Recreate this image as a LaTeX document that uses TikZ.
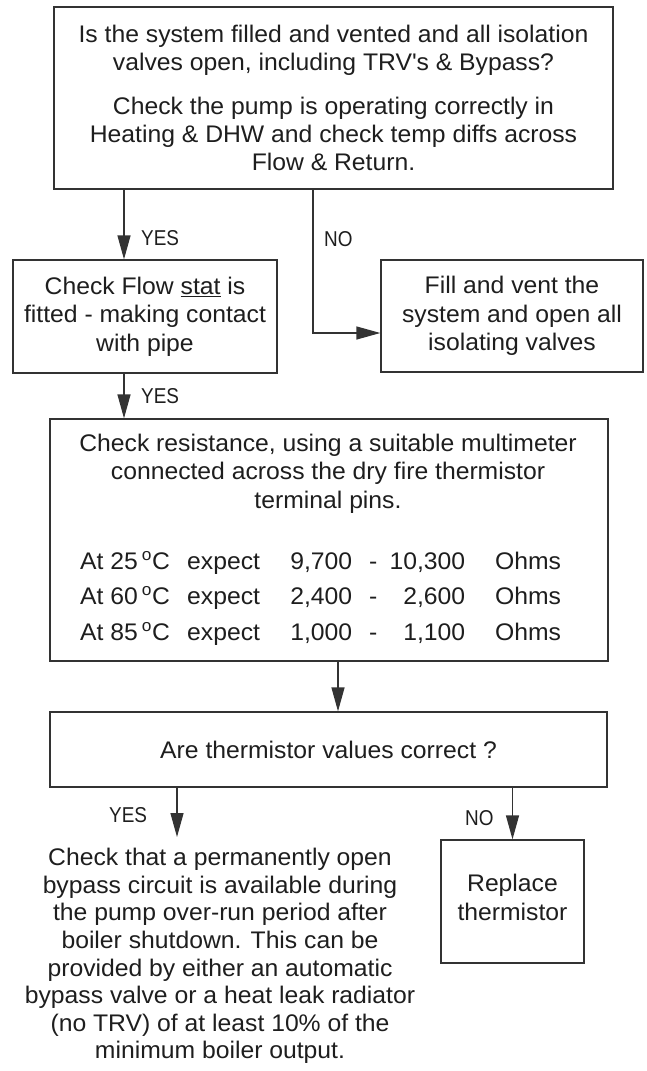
\documentclass[tikz,border=0pt]{standalone}
\usepackage{fontspec}
\setmainfont{Liberation Sans}[FakeStretch=1.03]
\newfontfamily\lblfont{Liberation Sans}[FakeStretch=0.88]
\usetikzlibrary{arrows.meta}
\definecolor{ink}{HTML}{1E1E1E}
\definecolor{edge}{HTML}{333333}
\newcommand\thermrow[3]{\makebox[107pt][l]{At #1\,\textsuperscript{o}C}\makebox[70pt][l]{expect}\makebox[95pt][r]{#2}\makebox[42pt]{-}\makebox[71pt][r]{#3}\hspace{30pt}Ohms}
\begin{document}
\begin{tikzpicture}[x=1pt,y=-1pt,
  box/.style={draw=edge, line width=1.3pt, inner sep=0pt},
  txt/.style={font=\fontsize{24}{28}\selectfont, text=ink, align=center},
  rowtxt/.style={font=\fontsize{24}{28}\selectfont, text=ink, anchor=west, inner sep=0pt},
  lbl/.style={font=\lblfont\fontsize{21.5}{24}\selectfont, text=ink, anchor=west, inner sep=0pt},
  arr/.style={draw=edge, line width=1.3pt, -{Triangle[length=24pt,width=13pt]}}]
\useasboundingbox (0,0) rectangle (646,1071);
\fill[white] (0,0) rectangle (646,1071);

% boxes
\node[box, txt, minimum width=559pt, minimum height=182pt] (top) at (333.5,98)
  {Is the system filled and vented and all isolation\\
   valves open, including TRV\textquotesingle s \& Bypass?\\[16pt]
   Check the pump is operating correctly in\\
   Heating \& DHW and check temp diffs across\\
   Flow \& Return.};
\node[box, txt, font=\fontsize{24}{28.5}\selectfont, minimum width=264pt, minimum height=113pt] (flow) at (145,316.5)
  {Check Flow \underline{stat} is\\fitted - making contact\\with pipe};
\node[box, txt, font=\fontsize{24}{28.5}\selectfont, minimum width=262pt, minimum height=112pt] (fill) at (512,316)
  {Fill and vent the\\system and open all\\isolating valves};
\node[box, minimum width=558pt, minimum height=242pt] (res) at (329,540) {};
\node[txt, font=\fontsize{24}{28.5}\selectfont] (restext) at (328,473.5)
  {Check resistance, using a suitable multimeter\\connected across the dry fire thermistor\\terminal pins.};
\node[rowtxt] (row1) at (80,563) {\thermrow{25}{9,700}{10,300}};
\node[rowtxt] (row2) at (80,598) {\thermrow{60}{2,400}{2,600}};
\node[rowtxt] (row3) at (80,634) {\thermrow{85}{1,000}{1,100}};
\node[box, txt, minimum width=557pt, minimum height=75pt] (therm) at (328.5,749.5)
  {Are thermistor values correct ?};
\node[box, minimum width=143pt, minimum height=123pt] (rep) at (512.5,901.5) {};
\node[txt, font=\fontsize{24}{29}\selectfont] (reptext) at (512.5,897.5)
  {Replace\\thermistor};
\node[txt, font=\fontsize{24}{27.6}\selectfont] (bypass) at (220,956)
  {Check that a permanently open\\bypass circuit is available during\\the pump over-run period after\\boiler shutdown. This can be\\provided by either an automatic\\bypass valve or a heat leak radiator\\(no TRV) of at least 10\% of the\\minimum boiler output.};

% helper coordinates
\coordinate (xa) at (124,0);
\coordinate (nob) at (313,333);
\coordinate (xr) at (338,0);
\coordinate (yes3end) at (177,837);

% connectors
\draw[arr] (top.south -| xa) -- (flow.north -| xa);
\draw[arr] (top.south -| nob) -- (nob) -- (nob -| fill.west);
\draw[arr] (flow.south -| xa) -- (res.north -| xa);
\draw[arr] (res.south -| xr) -- (therm.north -| xr);
\draw[arr] (therm.south -| yes3end) -- (yes3end);
\draw[arr] (therm.south -| rep.north) -- (rep.north);

% labels
\node[lbl] (yes1) at (141,238) {YES};
\node[lbl] (no1) at (324,239) {NO};
\node[lbl] (yes2) at (141,396) {YES};
\node[lbl] (yes3) at (109,815) {YES};
\node[lbl] (no2) at (465,818) {NO};
\end{tikzpicture}
\end{document}
